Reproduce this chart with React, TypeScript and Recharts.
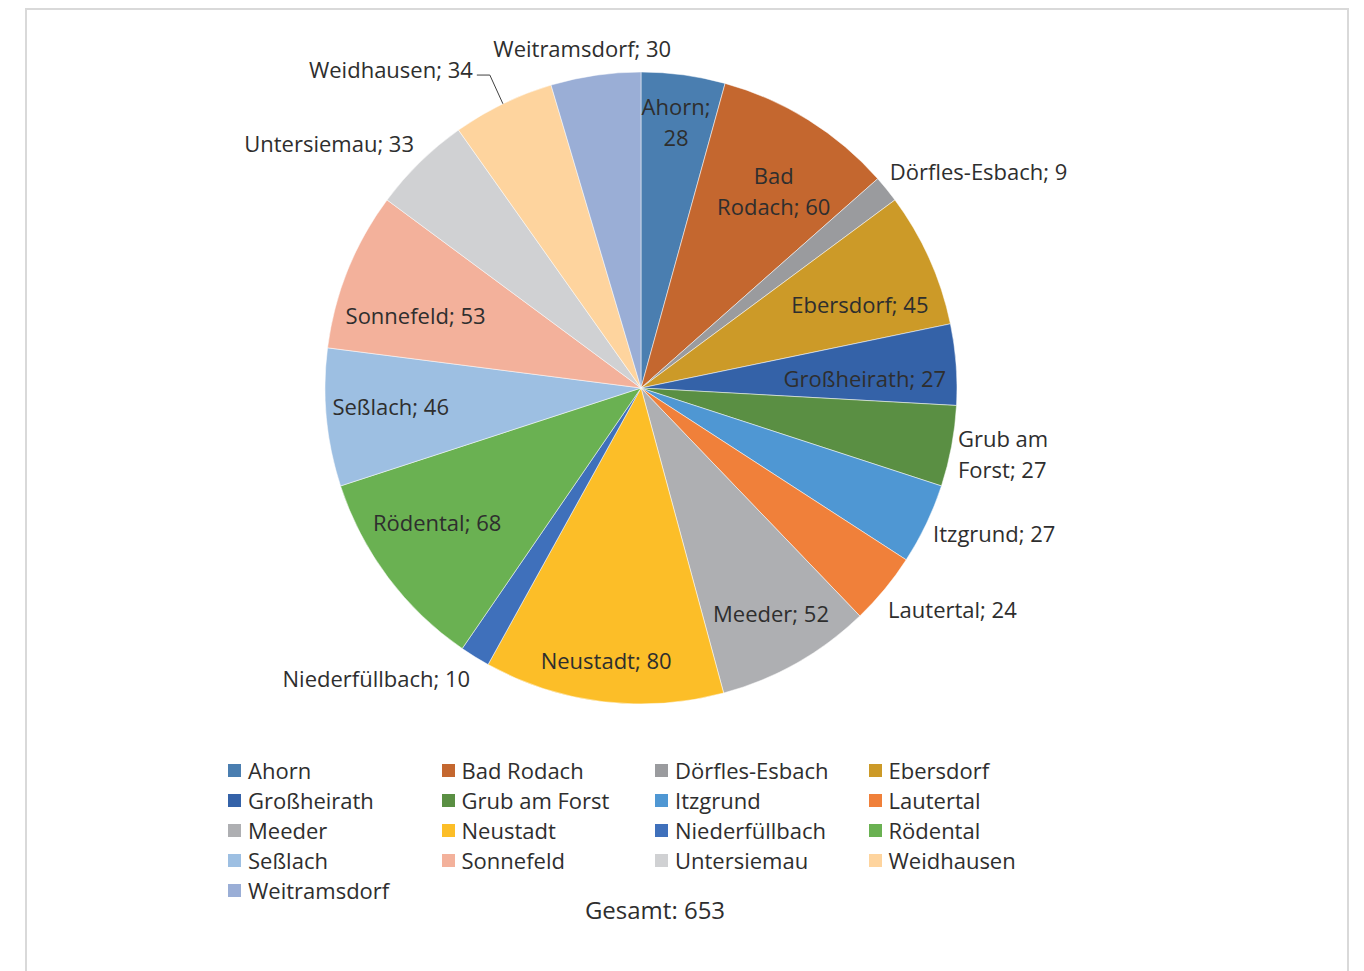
import React from 'react';
import { PieChart, Pie, Cell, Legend } from 'recharts';

const municipalities = [
  'Ahorn', 'Bad Rodach', 'Dörfles-Esbach', 'Ebersdorf', 'Großheirath', 'Grub am Forst',
  'Itzgrund', 'Lautertal', 'Meeder', 'Neustadt', 'Niederfüllbach', 'Rödental',
  'Seßlach', 'Sonnefeld', 'Untersiemau', 'Weidhausen', 'Weitramsdorf',
];
const counts = [28, 60, 9, 45, 27, 27, 27, 24, 52, 80, 10, 68, 46, 53, 33, 34, 30];
const sliceColors = [
  '#4a7eb0', '#c4672f', '#9a9b9e', '#cc9a28', '#3462a8', '#5a8f43',
  '#4f97d3', '#f0803a', '#aeafb2', '#fcbe28', '#3f70bb', '#6ab152',
  '#9dbfe2', '#f3b19b', '#d0d1d3', '#fed49e', '#9aaed6',
];
const totalLabel = 'Gesamt';

const data = municipalities.map((name, i) => ({ name, value: counts[i] }));
const total = counts.reduce((a, b) => a + b, 0);

const FONT = '"Open Sans", Lato, sans-serif';
const TEXT = '#2e2e2e';
const LINE_H = 31;
const FS = 22;

// where each data label sits: angle clockwise from 12 o'clock, radius as share of outer radius
type Place = { angle: number; r: number; anchor: 'start' | 'middle' | 'end'; wrap?: number; leader?: boolean };
const labelPlacement: Place[] = [
  { angle: 7.5, r: 0.85, anchor: 'middle', wrap: 1 },
  { angle: 33.9, r: 0.753, anchor: 'middle', wrap: 1 },
  { angle: 48.9, r: 1.045, anchor: 'start' },
  { angle: 69, r: 0.742, anchor: 'middle' },
  { angle: 87.4, r: 0.709, anchor: 'middle' },
  { angle: 101.6, r: 1.024, anchor: 'start', wrap: 2 },
  { angle: 116.4, r: 1.032, anchor: 'start' },
  { angle: 131.8, r: 1.049, anchor: 'start' },
  { angle: 150, r: 0.823, anchor: 'middle' },
  { angle: 187.3, r: 0.868, anchor: 'middle' },
  { angle: 210.5, r: 1.065, anchor: 'end' },
  { angle: 236.7, r: 0.772, anchor: 'middle' },
  { angle: 265.9, r: 0.794, anchor: 'middle' },
  { angle: 288, r: 0.75, anchor: 'middle' },
  { angle: 317.2, r: 1.057, anchor: 'end' },
  { angle: 332.2, r: 1.141, anchor: 'end', leader: true },
  { angle: 350.2, r: 1.092, anchor: 'middle' },
];

const RAD = Math.PI / 180;

const renderLabel = (props: any) => {
  const { cx, cy, outerRadius, index, name, value, midAngle } = props;
  const p = labelPlacement[index];
  const x = cx + p.r * outerRadius * Math.sin(p.angle * RAD);
  const y = cy - p.r * outerRadius * Math.cos(p.angle * RAD);
  const words = `${name}; ${value}`.split(' ');
  const lines = p.wrap ? [words.slice(0, p.wrap).join(' '), words.slice(p.wrap).join(' ')] : [words.join(' ')];
  const y0 = y - ((lines.length - 1) * LINE_H) / 2;
  let leader = null;
  if (p.leader) {
    const ex = cx + outerRadius * Math.cos(-midAngle * RAD);
    const ey = cy + outerRadius * Math.sin(-midAngle * RAD);
    leader = (
      <polyline
        points={`${x + 4},${y + 6} ${x + 17},${y + 6} ${ex},${ey}`}
        fill="none"
        stroke="#404040"
        strokeWidth={1}
      />
    );
  }
  return (
    <g key={`lbl-${index}`}>
      {leader}
      <text x={x} y={y0} textAnchor={p.anchor} dominantBaseline="central" fill={TEXT} fontSize={FS} fontFamily={FONT}>
        {lines.map((l, i) => (
          <tspan key={i} x={x} dy={i === 0 ? 0 : LINE_H}>{l}</tspan>
        ))}
      </text>
    </g>
  );
};

const renderLegend = (props: any) => {
  const { payload } = props;
  return (
    <div style={{ fontFamily: FONT, fontSize: FS, color: TEXT }}>
      <div style={{ display: 'grid', gridTemplateColumns: 'repeat(4, 213.5px)', gridAutoRows: '30px' }}>
        {(payload || []).map((entry: any, i: number) => (
          <div key={i} style={{ display: 'flex', alignItems: 'center', whiteSpace: 'nowrap' }}>
            <span style={{ width: 13, height: 13, background: entry.color, marginRight: 7, display: 'inline-block' }} />
            <span>{entry.value}</span>
          </div>
        ))}
      </div>
      <div style={{ position: 'absolute', left: 0, top: 138, width: 854, textAlign: 'center', fontSize: 24 }}>
        {totalLabel}: {total}
      </div>
    </div>
  );
};

export default function App() {
  return (
    <div style={{ position: 'absolute', left: 0, top: 0, width: 1364, height: 971, overflow: 'hidden', background: '#fff' }}>
      <div
        style={{
          position: 'absolute', left: 25, top: 8, width: 1324, height: 1000,
          border: '2px solid #d9d9d9', boxSizing: 'border-box',
        }}
      />
      <PieChart width={1364} height={971} margin={{ top: 0, right: 0, bottom: 0, left: 0 }} style={{ position: 'absolute', left: 0, top: 0 }}>
        <Pie
          data={data}
          dataKey="value"
          nameKey="name"
          cx={641}
          cy={388}
          outerRadius={316}
          startAngle={90}
          endAngle={-270}
          stroke="#ffffff"
          strokeWidth={0.5}
          label={renderLabel}
          labelLine={false}
          isAnimationActive={false}
        >
          {data.map((d, i) => (
            <Cell key={d.name} fill={sliceColors[i]} />
          ))}
        </Pie>
        <Legend
          content={renderLegend}
          wrapperStyle={{ position: 'absolute', left: 228, top: 755, width: 854 }}
        />
      </PieChart>
    </div>
  );
}
